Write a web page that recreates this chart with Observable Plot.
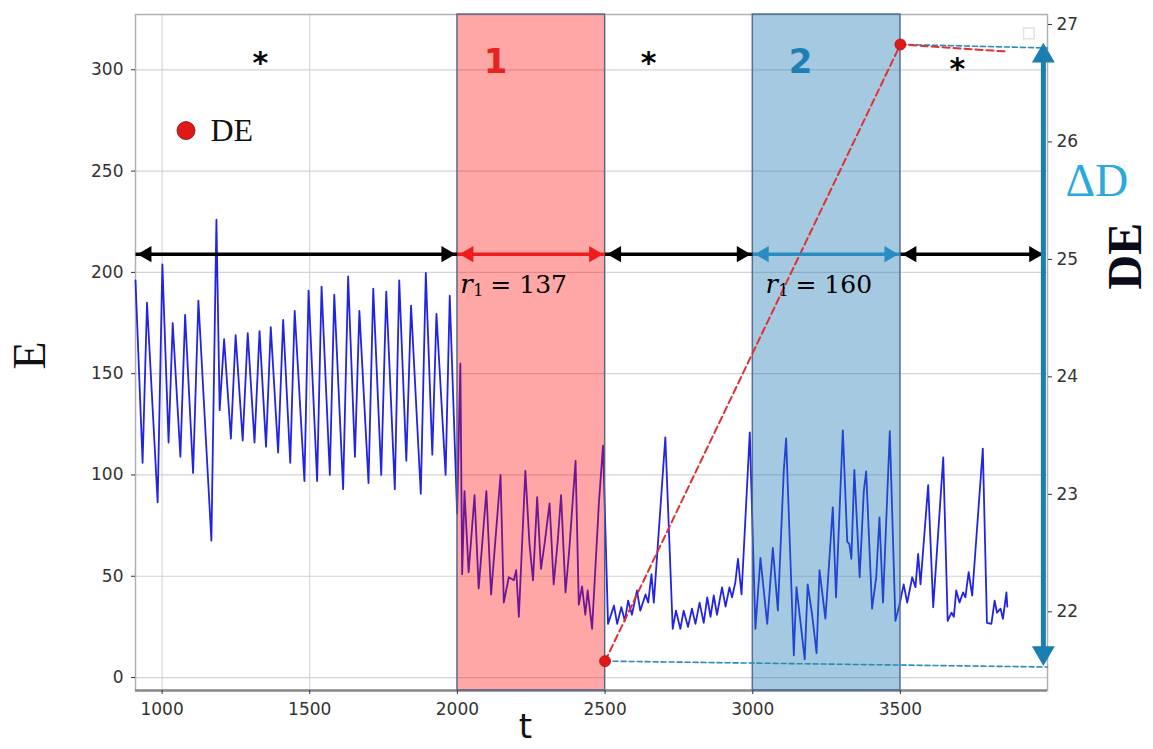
<!DOCTYPE html>
<html>
<head>
<meta charset="utf-8">
<script src="https://cdn.jsdelivr.net/npm/d3@7"></script>
<script src="https://cdn.jsdelivr.net/npm/@observablehq/plot@0.6"></script>
<style>
  html, body { margin: 0; padding: 0; background: #fff; }
  #chart svg { display: block; }
</style>
</head>
<body>
<div id="chart"></div>
<script>
// ---- data ----
const tVals = [910,934,949,985,1001,1022,1036,1062,1078,1105,1123,1167,1184,1195,1210,1233,1249,1273,1290,1313,1330,1352,1368,1393,1410,1434,1449,1482,1496,1525,1540,1568,1583,1613,1630,1653,1668,1699,1715,1742,1759,1788,1803,1827,1843,1876,1893,1915,1929,1960,1974,1999,2010,2016,2024,2038,2058,2072,2098,2114,2146,2157,2174,2191,2199,2208,2230,2244,2256,2270,2283,2296,2312,2326,2340,2351,2366,2379,2400,2411,2422,2433,2441,2456,2479,2493,2510,2530,2541,2555,2567,2578,2591,2608,2619,2637,2646,2657,2665,2704,2729,2740,2755,2766,2781,2794,2806,2820,2834,2846,2857,2868,2879,2896,2908,2921,2930,2941,2950,2962,2990,3009,3026,3049,3068,3085,3105,3113,3139,3148,3176,3186,3201,3216,3226,3246,3271,3282,3305,3320,3327,3334,3344,3362,3376,3384,3404,3418,3429,3441,3464,3483,3497,3511,3523,3540,3551,3560,3568,3594,3611,3645,3660,3673,3681,3689,3700,3712,3720,3731,3743,3779,3793,3808,3819,3827,3839,3847,3859,3862];
const eVals = [196,106,185,86.5,204,116,175,109,179,101,186,67.6,226,132,167,118,169,117,170,116,171,114,173,111,176.5,106,181,97,191,97,193,100,189,93,198,109,181,96,192,100,190.5,93,196,107,183.6,90.7,199.7,110,179.5,100,188.5,81,155,51,92,52,90,44,92,41,100,37,49.5,48,53,30,102,66,48,89,53.6,67,86,46,68,90,42,63.5,107,36,45,31,43,24,86,114.5,26.5,35.5,26.5,34.7,28,38,31,43,33,41,37,51,37,118.6,24,33,24,33,25,34,26.5,37,27,39.6,30,40.5,31,44.5,35,44.5,39.6,47,58.6,41,121,24,59,26.5,64,33,102,118,11,44.6,9,46,31,12,53,29,84,39.6,122,67,66,58.6,102.5,49.5,92,101.7,34,49.5,79,37,121.6,28,36,46,37,49.5,44.6,61,46,95,34.7,108.7,28,32,30,43,37,42,39.6,52,40.5,113,27,26.5,38,32,34,29,42,35];

const deT    = [2500, 3500, 3860];
const deVals = [21.58, 26.83, 26.77];
const refLowT  = [2500, 3998];
const refLowDE = [21.58, 21.53];
const refHighT  = [3500, 3998];
const refHighDE = [26.83, 26.80];

const eTicks  = [0, 50, 100, 150, 200, 250, 300];
const tTicks  = [1000, 1500, 2000, 2500, 3000, 3500];
const deTicks = [22, 23, 24, 25, 26, 27];

const segStart = [910, 2000, 2500, 3000, 3500];
const segEnd   = [2000, 2500, 3000, 3500, 3990];
const segLabel = ["*", "1", "*", "2", "*"];
const bandStart = [2000, 3000];
const bandEnd   = [2500, 3500];
const rates = [137, 160];
const arrowE = 209;
const deltaSpanDE = [21.6, 26.8];

// ---- scales geometry ----
const W = 1153, H = 749;
const eDomain = [-6.4, 327.3];
const dDomain = [21.33, 27.085];
const toE = d => eDomain[0] + (d - dDomain[0]) / (dDomain[1] - dDomain[0]) * (eDomain[1] - eDomain[0]);
const toDE = e => dDomain[0] + (e - eDomain[0]) / (eDomain[1] - eDomain[0]) * (dDomain[1] - dDomain[0]);

const series = tVals.map((t, i) => ({t, E: eVals[i]}));
const deSeries = deT.map((t, i) => ({t, E: toE(deVals[i])}));
const refLow = refLowT.map((t, i) => ({t, E: toE(refLowDE[i])}));
const refHigh = refHighT.map((t, i) => ({t, E: toE(refHighDE[i])}));
const segs = segStart.map((s, i) => ({s, e: segEnd[i], label: segLabel[i], i}));
const bands = bandStart.map((s, i) => ({s, e: bandEnd[i], i}));

const segColor = ["#000", "#ee1c1c", "#000", "#2b8cc4", "#000"];
const labelColor = ["#000", "#e8231f", "#000", "#1f7fb4", "#000"];
const labelX = [1333, 2129, 2647, 3162, 3693];
const labelY = [303, 304, 303, 304, 300];
const rateX = [2010, 3043];
const headR = 6, headOff = 9.3;

const chart = Plot.plot({
  width: W, height: H,
  marginLeft: 135, marginRight: 106, marginTop: 14, marginBottom: 59,
  x: {domain: [910, 3998], nice: false},
  y: {domain: eDomain, nice: false},
  style: {fontFamily: "DejaVu Sans, sans-serif", fontSize: "17px", color: "#333", background: "#fff"},
  marks: [
    Plot.gridY(eTicks, {stroke: "#d4d4d4", strokeOpacity: 1, strokeWidth: 1.2}),
    Plot.gridX(tTicks, {stroke: "#d0d0d0", strokeOpacity: 1, strokeWidth: 1}),
    Plot.frame({stroke: "#b0b0b0", strokeWidth: 1.5}),
    Plot.ruleY([eDomain[0]], {stroke: "#8a8a8a", strokeWidth: 2.5}),
    Plot.axisY(eTicks, {anchor: "left", label: null, tickSize: 4, tickPadding: 8, fontSize: 17, fill: "#333",
      tickFormat: d => String(d)}),
    Plot.axisX(tTicks, {anchor: "bottom", label: null, tickSize: 4, tickPadding: 8, fontSize: 17, fill: "#333",
      tickFormat: d => String(d)}),
    Plot.axisY(deTicks.map(toE), {anchor: "right", label: null, tickSize: 4, tickPadding: 5, fontSize: 17, fill: "#333",
      tickFormat: d => String(Math.round(toDE(d)))}),
    // signal
    Plot.line(series, {x: "t", y: "E", stroke: "#2323e6", strokeWidth: 1.8, strokeLinejoin: "round"}),
    // shaded phases
    Plot.rect(bands, {x1: "s", x2: "e", fill: (d) => d.i === 0 ? "rgba(255,0,0,0.35)" : "rgba(31,119,180,0.4)",
      stroke: "#4a6890", strokeWidth: 1.3}),
    // DE curve and reference dashes
    Plot.line(refLow, {x: "t", y: "E", stroke: "#2a8ab8", strokeWidth: 1.6, strokeDasharray: "5,3"}),
    Plot.line(refHigh, {x: "t", y: "E", stroke: "#2a8ab8", strokeWidth: 1.6, strokeDasharray: "5,3"}),
    Plot.line(deSeries, {x: "t", y: "E", stroke: "#e23030", strokeWidth: 2, strokeDasharray: "7,4"}),
    Plot.dot(deSeries.slice(0, 2), {x: "t", y: "E", r: 5.5, fill: "#e01818", stroke: "#b01010", strokeWidth: 0.8}),
    // double arrows
    Plot.link(segs, {x1: "s", x2: "e", y1: arrowE, y2: arrowE, stroke: (d) => segColor[d.i], strokeWidth: 3.5}),
    Plot.dot(segs, {x: "s", y: arrowE, symbol: "triangle", r: headR, rotate: -90, dx: headOff + 2,
      fill: (d) => segColor[d.i], stroke: null}),
    Plot.dot(segs, {x: "e", y: arrowE, symbol: "triangle", r: headR, rotate: 90, dx: -headOff - 2,
      fill: (d) => segColor[d.i], stroke: null}),
    // ΔD vertical arrow
    Plot.link([0], {x1: 3984, x2: 3984, y1: toE(deltaSpanDE[0]), y2: toE(deltaSpanDE[1]), stroke: "#1a7eb0", strokeWidth: 5}),
    Plot.dot([0], {x: 3984, y: toE(deltaSpanDE[1]), symbol: "triangle", r: 8.5, rotate: 0, dy: 8, fill: "#1a7eb0", stroke: null}),
    Plot.dot([0], {x: 3984, y: toE(deltaSpanDE[0]), symbol: "triangle", r: 8.5, rotate: 180, dy: -6, fill: "#1a7eb0", stroke: null}),
    // phase labels
    Plot.text(segs, {x: (d) => labelX[d.i], y: (d) => labelY[d.i], text: "label",
      fill: (d) => labelColor[d.i], fontSize: (d) => d.label === "*" ? 30 : 34, fontWeight: "bold",
      fontFamily: "DejaVu Sans, sans-serif"}),
    // rate labels
    Plot.text(rates, {x: (d, i) => rateX[i], y: 194, text: () => "r", textAnchor: "start",
      fontFamily: "DejaVu Serif, serif", fontStyle: "italic", fontSize: 26, fill: "#000"}),
    Plot.text(rates, {x: (d, i) => rateX[i], y: 194, dx: 13, dy: 6, text: () => "1", textAnchor: "start",
      fontFamily: "DejaVu Serif, serif", fontSize: 16, fill: "#000"}),
    Plot.text(rates, {x: (d, i) => rateX[i], y: 194, dx: 30, text: (d) => "= " + d, textAnchor: "start",
      fontFamily: "DejaVu Serif, serif", fontSize: 25, fill: "#000"}),
    // legend
    Plot.dot([0], {x: 1081, y: 270, r: 9, fill: "#e01818", stroke: "#7a1010", strokeWidth: 0.8}),
    Plot.text(["DE"], {x: 1164, y: 270, textAnchor: "start", fontFamily: "Liberation Serif, serif", fontSize: 32, fill: "#111"}),
    Plot.dot([0], {x: 3935, y: 318, symbol: "square", r: 6, stroke: "#e2e2e2", fill: "none", strokeWidth: 1.5}),
    // axis titles
    Plot.text(["E"], {x: 554, y: 159, rotate: -90, fontFamily: "Liberation Serif, serif", fontSize: 46, fill: "#111"}),
    Plot.text(["t"], {x: 2230, y: -24.5, fontFamily: "DejaVu Sans, sans-serif", fontSize: 34, fill: "#111"}),
    Plot.text(["DE"], {x: 4262, y: 208, rotate: -90, fontFamily: "Liberation Serif, serif", fontWeight: "bold", fontSize: 48, fill: "#0b0b1a"}),
    Plot.text(["ΔD"], {x: 4165, y: 245, fontFamily: "Liberation Serif, serif", fontSize: 46, fill: "#29a9e0"})
  ]
});
document.getElementById("chart").appendChild(chart);
</script>
</body>
</html>
